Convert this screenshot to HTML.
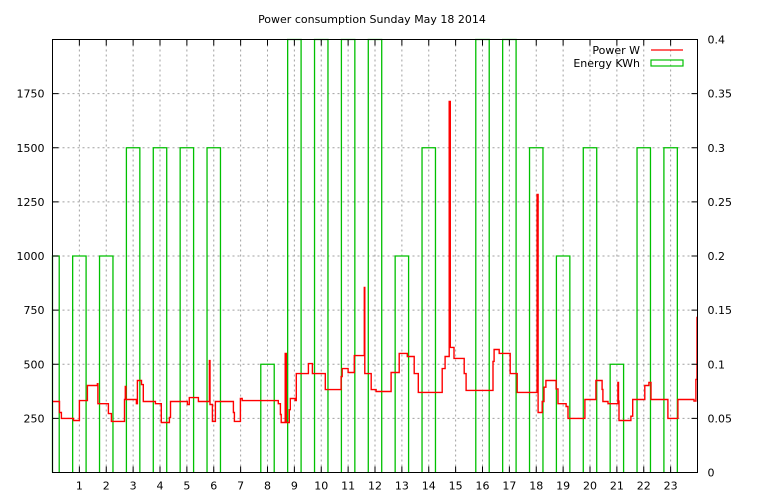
<!DOCTYPE html>
<html><head><meta charset="utf-8"><style>
body{margin:0;background:#fff;}
svg{display:block;font-family:"DejaVu Sans","Liberation Sans",sans-serif;font-size:11px;}
</style></head><body>
<svg id="chart" width="768" height="500" viewBox="0 0 768 500" xmlns="http://www.w3.org/2000/svg">
<rect width="768" height="500" fill="#fff"/>
<text x="372" y="23" text-anchor="middle">Power consumption Sunday May 18 2014</text>
<g id="grid"></g>
<g id="bars"></g>
<g id="power"></g>
<g id="axes"></g>
<g>
<text x="640" y="54" text-anchor="end">Power W</text>
<line x1="651" y1="50" x2="683" y2="50" stroke="#ff0000" stroke-width="1.2"/>
<text x="640" y="67" text-anchor="end">Energy KWh</text>
<rect x="651" y="60" width="32" height="6" fill="none" stroke="#00c000" stroke-width="1.2"/>
</g>
</svg>
<script>
const hours = [0,1,2,3,4,5,6,7,8,9,10,11,12,13,14,15,16,17,18,19,20,21,22,23];
const energyKWh = [0.2,0.2,0.2,0.3,0.3,0.3,0.3,0,0.1,0.45,0.45,0.45,0.45,0.2,0.3,0,0.45,0.45,0.3,0.2,0.3,0.1,0.3,0.3];
const powerTimes = [0,0.26,0.33,0.78,1.0,1.3,1.67,1.69,2.08,2.19,2.68,2.71,2.73,3.12,3.16,3.31,3.38,3.83,4.05,4.35,4.39,5.02,5.09,5.43,5.84,5.86,5.95,6.06,6.73,6.77,6.99,7.06,8.40,8.48,8.51,8.66,8.70,8.81,8.85,9.03,9.07,9.52,9.67,10.15,10.74,10.78,11.0,11.23,11.60,11.62,11.86,12.04,12.60,12.90,13.20,13.46,13.61,14.50,14.61,14.76,14.80,14.94,15.32,15.39,16.39,16.43,16.62,17.03,17.29,18.03,18.07,18.22,18.29,18.36,18.74,18.81,19.11,19.18,19.81,20.22,20.45,20.48,20.67,21.04,21.06,21.08,21.52,21.59,22.04,22.19,22.27,22.90,23.27,23.87,23.94,23.98,24];
const powerWatts = [328,277,250,240,332,402,410,318,272,236,337,397,337,318,425,406,328,318,231,254,328,314,346,328,517,314,236,328,277,236,342,332,318,268,231,550,231,290,342,332,457,503,457,383,443,480,462,540,855,457,383,374,462,550,536,457,370,480,536,1714,578,527,457,379,513,568,550,457,370,1284,277,328,394,425,386,318,305,250,337,425,384,328,318,416,330,240,260,337,402,416,337,250,337,330,430,716,716];
const yTicksLeft = [250,500,750,1000,1250,1500,1750];
const yTickLabelsRight = ["0","0.05","0.1","0.15","0.2","0.25","0.3","0.35","0.4"];
const xTickLabels = ["1","2","3","4","5","6","7","8","9","10","11","12","13","14","15","16","17","18","19","20","21","22","23"];

const L=52.5,R=697.5,T=39.5,B=472.5;
const xs=h=>L+h*(R-L)/24;
const yW=w=>B-w*(B-T)/2000;
const yE=e=>B-e*(B-T)/0.4;
const NS="http://www.w3.org/2000/svg";
function mk(parent,tag,attrs){const e=document.createElementNS(NS,tag);for(const k in attrs)e.setAttribute(k,attrs[k]);document.getElementById(parent).appendChild(e);return e;}

// grid
xTickLabels.forEach((lab,i)=>{const x=xs(+lab);
 const g=mk('grid','line',{x1:x,y1:T,x2:x,y2:B,stroke:'#a0a0a0','stroke-dasharray':'2,3','stroke-width':1});
 
 
});
yTicksLeft.forEach(v=>{const y=yW(v);
 const g=mk('grid','line',{x1:L,y1:y,x2:R,y2:y,stroke:'#a0a0a0','stroke-dasharray':'2,3','stroke-width':1});
 
 
});

// energy boxes
energyKWh.forEach((e,i)=>{ if(e<=0) return;
 let x0=Math.max(L,xs(hours[i]-0.25)), x1=Math.min(R,xs(hours[i]+0.25));
 let y=Math.max(T,yE(e));
 const p=mk('bars','path',{d:`M${x0},${B}V${y}H${x1}V${B}`,fill:'none',stroke:'#00c000','stroke-width':1.3});
 
 
});

// power step line
let d=`M${xs(powerTimes[0])},${yW(powerWatts[0])}`;
for(let i=1;i<powerTimes.length;i++){
 d+=`H${xs(powerTimes[i]).toFixed(1)}V${yW(powerWatts[i]).toFixed(1)}`;
}
const pl=mk('power','path',{d:d,fill:'none',stroke:'#ff0000','stroke-width':1.4});



// axes frame
const fr=mk('axes','rect',{x:L,y:T,width:R-L,height:B-T,fill:'none',stroke:'#000','stroke-width':1});


yTicksLeft.forEach(v=>{const y=yW(v);
 const t=mk('axes','line',{x1:L,y1:y,x2:L+6,y2:y,stroke:'#000'});
 
 
 const tx=mk('axes','text',{x:L-8,y:y+4,'text-anchor':'end'});tx.textContent=v;
 
 
});
yTickLabelsRight.forEach((lab,i)=>{const y=yE(+lab);
 const t=mk('axes','line',{x1:R-6,y1:y,x2:R,y2:y,stroke:'#000'});
 
 
 const tx=mk('axes','text',{x:R+10,y:y+4,'text-anchor':'start'});tx.textContent=lab;
 
 
});
xTickLabels.forEach(lab=>{const x=xs(+lab);
 const t=mk('axes','path',{d:`M${x},${B}v-6M${x},${T}v6`,stroke:'#000'});
 
 
 const tx=mk('axes','text',{x:x,y:B+17,'text-anchor':'middle'});tx.textContent=lab;
 
 
});
</script>
</body></html>
